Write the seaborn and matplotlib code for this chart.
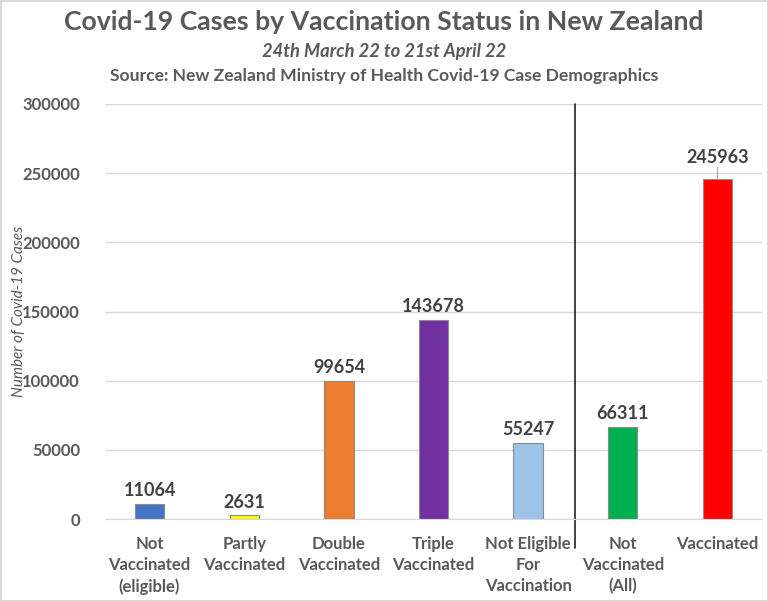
import matplotlib
matplotlib.use("Agg")
import pandas as pd
import seaborn as sns
import matplotlib.pyplot as plt

categories = ["Not\nVaccinated\n(eligible)", "Partly\nVaccinated", "Double\nVaccinated",
              "Triple\nVaccinated", "Not Eligible\nFor\nVaccination", "Not\nVaccinated\n(All)",
              "Vaccinated"]
cases = [11064, 2631, 99654, 143678, 55247, 66311, 245963]
colours = ["#4472C4", "#FFFF00", "#ED7D31", "#7030A0", "#9DC3E6", "#00B050", "#FF0000"]
yticks = [0, 50000, 100000, 150000, 200000, 250000, 300000]

df = pd.DataFrame({"status": categories, "cases": cases})

sns.set_style("white")
plt.rcParams['font.family'] = ['Lato', 'DejaVu Sans']

fig = plt.figure(figsize=(7.68, 6.01), dpi=100)
ax = fig.add_axes([105/768, 1-519/601, 657/768, 415/601])

sns.barplot(data=df, x="status", y="cases", hue="status", palette=colours, saturation=1,
            legend=False, width=0.31, edgecolor="#8c8c8c", linewidth=0.8, ax=ax)

for i, v in enumerate(cases):
    off = 9000 if i == 6 else 3500
    ax.text(i, v + off, str(v), ha="center", va="bottom", fontsize=13,
            fontweight="bold", color="#404040")
# Excel-style leader line on the last label
ax.plot([6, 6], [cases[6], cases[6] + 8500], color="#a6a6a6", linewidth=0.8)

ax.set_ylim(0, 300000)
ax.set_yticks(yticks)
ax.set_yticklabels([str(t) for t in yticks], fontsize=12, fontweight="bold", color="#595959")
ax.tick_params(axis="x", labelsize=12, colors="#595959", length=0, pad=12)
for t in ax.get_xticklabels():
    t.set_fontweight("bold")
    t.set_linespacing(1.4)
ax.tick_params(axis="y", length=0, pad=18)
ax.grid(axis="y", color="#d9d9d9", linewidth=1)
ax.set_axisbelow(True)
for s in ["top", "right", "left"]:
    ax.spines[s].set_visible(False)
ax.spines["bottom"].set_color("#d9d9d9")

# divider between single statuses and the totals
ax.axvline(4.5, ymin=-0.07, ymax=1.0, color="#222222", linewidth=1.2, clip_on=False)

ax.set_xlabel(None)
ax.set_ylabel("Number of Covid-19 Cases", fontsize=11, fontstyle="italic", color="#595959")
ax.yaxis.set_label_coords(-0.12, 0.5)

fig.text(0.5, 0.963, "Covid-19 Cases by Vaccination Status in New Zealand", ha="center",
         va="center", fontsize=19.2, fontweight="bold", color="#595959")
fig.text(0.5, 0.914, "24th March 22 to 21st April 22", ha="center", va="center",
         fontsize=13.2, fontweight="bold", fontstyle="italic", color="#595959")
fig.text(0.5, 0.874, "Source: New Zealand Ministry of Health Covid-19 Case Demographics",
         ha="center", va="center", fontsize=12.6, fontweight="bold", color="#595959")

fig.patch.set_edgecolor("#d9d9d9")
fig.patch.set_linewidth(2)

plt.savefig("out.png", dpi=100)
